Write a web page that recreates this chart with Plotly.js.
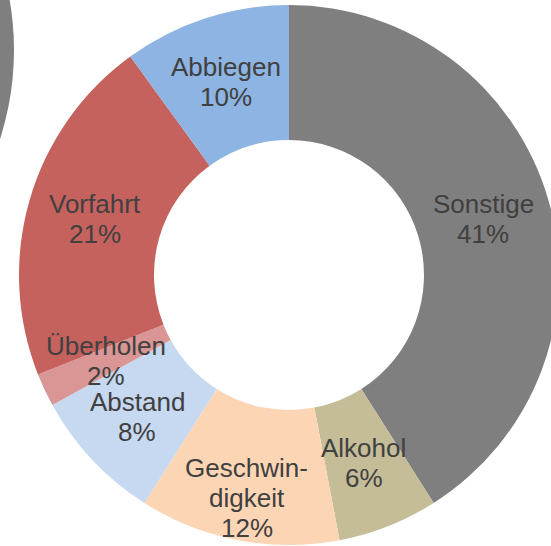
<!DOCTYPE html>
<html><head><meta charset="utf-8">
<script src="https://cdn.plot.ly/plotly-3.0.1.min.js"></script>
<style>html,body{margin:0;padding:0;overflow:hidden;background:#fff;} #chart{width:600px;height:546px;}</style>
</head><body><div id="chart"></div>
<script>
// Data
const categories = ['Sonstige', 'Alkohol', 'Geschwindigkeit', 'Abstand', 'Überholen', 'Vorfahrt', 'Abbiegen'];
const shares = [41, 6, 12, 8, 2, 21, 10];
const displayLabels = ['Sonstige', 'Alkohol', 'Geschwin-<br>digkeit', 'Abstand', 'Überholen', 'Vorfahrt', 'Abbiegen'];

// Styles
const sliceColors = ['#7F7F7F', '#C4BD97', '#FCD5B5', '#C6D9F1', '#D99694', '#C5625E', '#8DB4E2'];
const labelRadiusFraction = {'Geschwindigkeit': 0.84, 'Abstand': 0.77};
const holeFraction = 0.5;
const lineGap = 30;
const labelFont = {family: 'Liberation Sans, Arial, sans-serif', size: 26, color: '#404040'};

// Geometry of figure (pixels)
const W = 600, H = 546, M = {l: 19, r: 41, t: 5, b: 1};
const plotW = W - M.l - M.r, plotH = H - M.t - M.b;

// Label annotations placed at the middle of each slice's ring, one per text line
const total = shares.reduce((a, b) => a + b, 0);
let cum = 0;
const annotations = [];
shares.forEach((v, i) => {
  const mid = (cum + v / 2) / total * 2 * Math.PI;
  cum += v;
  const f = labelRadiusFraction[categories[i]] || (1 + holeFraction) / 2;
  const x = 0.5 + 0.5 * f * Math.sin(mid);
  const y = 0.5 + 0.5 * f * Math.cos(mid);
  const lines = displayLabels[i].split('<br>').concat([v + '%']);
  const n = lines.length;
  lines.forEach((line, k) => {
    annotations.push({
      xref: 'paper', yref: 'paper', x: x, y: y,
      yshift: ((n - 1) / 2 - k) * lineGap,
      text: line,
      showarrow: false, xanchor: 'center', yanchor: 'middle', align: 'center',
      font: labelFont
    });
  });
});

// Partial neighbouring ring at top-left (decorative, grey)
function px2x(px) { return (px - M.l) / plotW; }
function py2y(py) { return 1 - (py - M.t) / plotH; }
const arcR = 290, arcCx = 14 - arcR, arcCy = 50;

const trace = {
  type: 'pie',
  labels: categories,
  values: shares,
  sort: false,
  direction: 'clockwise',
  rotation: 0,
  hole: holeFraction,
  marker: {colors: sliceColors, line: {width: 0}},
  textinfo: 'none',
  hoverinfo: 'label+percent',
  domain: {x: [0, 1], y: [0, 1]}
};

const layout = {
  width: W, height: H,
  margin: M,
  showlegend: false,
  paper_bgcolor: '#FFFFFF',
  plot_bgcolor: '#FFFFFF',
  annotations: annotations,
  shapes: [{
    type: 'circle', xref: 'paper', yref: 'paper',
    x0: px2x(arcCx - arcR), x1: px2x(arcCx + arcR),
    y0: py2y(arcCy + arcR), y1: py2y(arcCy - arcR),
    fillcolor: '#7F7F7F', line: {width: 0}, layer: 'below'
  }]
};

Plotly.newPlot('chart', [trace], layout, {displayModeBar: false, staticPlot: true});
</script></body></html>
